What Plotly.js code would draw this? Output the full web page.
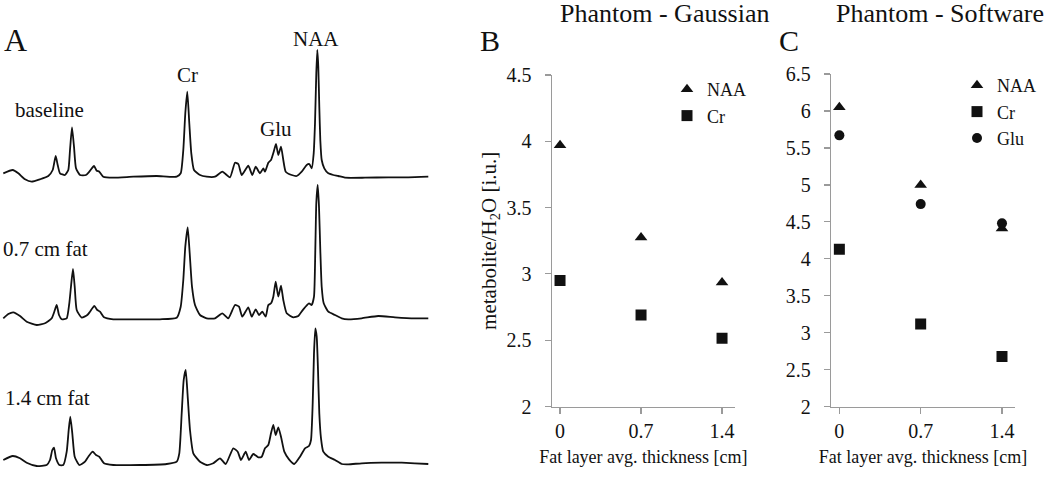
<!DOCTYPE html>
<html>
<head>
<meta charset="utf-8">
<script src="https://cdn.plot.ly/plotly-3.0.1.min.js"></script>
<style>html,body{margin:0;padding:0;background:#fff;}#chart{width:1050px;height:478px;}</style>
</head>
<body>
<div id="chart"></div>
<script>
// ---- Panel A: spectra (horizontal position in picture units, intensity above baseline) ----
const specBaseX = [3.3,12.7,18.3,25,31.7,40,48.3,52.7,55.7,57.7,60,65,68.3,70,72,74,76,80,86,89.3,94,96.7,99.3,103.3,113.3,133.3,156.7,176.7,180.7,183.3,185.3,187.3,189.3,191.3,194,200,206.7,215,222.3,230,235,238.3,241.7,248.3,252.3,255.7,260,263.3,265,268.3,271,273.7,276,278.3,281,283.3,285.7,291.7,296.7,301.7,306.7,309.3,311.7,313.7,315,316.3,317.3,318.3,319.3,320.3,321.7,324.3,328.3,333.3,338.3,345,365,388.3,408.3,428.3];
const specBaseI = [4.2,7.5,4.2,-1.8,-4.2,-1.8,1.5,7.5,21.5,12.5,4.2,2.5,7.5,27.5,50.2,30.8,9.2,2.5,2.5,5.8,11.5,6.8,5.8,0.8,-0.2,0.8,1.5,0.8,4.2,27.5,64.2,85.8,54.2,24.2,7.5,2.5,0.8,0.8,5.8,0.2,14.8,13.5,2.5,11.8,2.5,10.8,4.2,9.2,5.8,14.8,17.5,25.8,33.5,22.5,30.8,17.5,5.8,2.5,1.5,5.8,12.5,13.5,9.2,24.2,54.2,104.2,127.5,110.8,70.8,37.5,17.5,9.2,4.2,2.5,1.5,-0.2,-0.2,0.2,0.2,0.8];

const spec07X = [3.3,8.3,13.3,20,26.7,36.7,45,51.7,54.3,56.7,59,61.7,66.7,69.3,71.3,73,74.7,76.7,81.7,87.3,90,94.3,97.3,100,104,113.3,133.3,160,176.7,180.7,183.3,185.3,187.7,189.7,192,195,200,206.7,215,222.3,228.3,235,239,242.3,248.3,251.7,255.7,259,262.3,265.7,268.3,271,273.3,275.7,278.3,281,283.3,286.7,293.3,298.3,303.3,309,311.7,314,315.3,316.3,317.7,319,320.3,321.7,323.7,328.3,335,341.7,348.3,361.7,378.3,395,415,428.3];
const spec07I = [0,4.3,6,2.3,-3.4,-6.7,-5,0,6.6,13.3,3.3,-1,0,15,35,49.3,31.6,8.3,0.6,3.3,6.6,12.3,8.3,6.6,1,-1,-1,-1,0.6,11.6,38.3,71.6,91,65,31.6,13.3,3.3,0,0,5,0,13.3,11.6,1.6,11,1.6,9,3.3,6.6,1.6,13.3,15,21.6,36.6,21.6,32.6,18.3,5,1,2.3,9,15,13.3,21.6,68.3,115,133.3,111.6,68.3,31.6,15,6.6,3.3,0,-1,0,2.3,1,0,0];

const spec14X = [3.3,12.7,20,26.7,36.7,46.7,50,52.3,54,56,59.3,63.3,66.7,68.7,70.3,72.3,74.7,79.3,85,88.3,92.7,96,99.3,104,113.3,140,166.7,176.7,179.3,181.7,183.7,185.7,187.7,190,193.3,200,206.7,213.3,220,225.7,233.3,237.7,241,245.7,249,253.3,258.3,261.7,265,268.3,271,273.3,275.7,278.3,281,284.3,289,294.3,300,305,309,311,312.7,314,315.3,316.7,318,319.3,321,323.3,328.3,335,341.7,348.3,361.7,381.7,401.7,415,428.3];
const spec14I = [3,7,4.7,0.3,-3,-2,3,13,15.3,4.7,-2,-2,11.3,33,46.3,29.7,6.3,-2,1.3,6.3,11.3,8,6.3,-0.3,-2,-2,-1,1.3,9.7,49.7,83,93,66.3,33,9.7,1.3,-2,-0.3,4.7,-1,14.7,11.3,3,11.3,3,9,5.7,6.3,14.7,18,29.7,38,28,35.7,26.3,11.3,3.7,-1,6.3,14.7,17,23,59.7,109.7,134.7,126.3,93,49.7,24.7,11.3,6.3,3,-1,-1.3,-0.3,0.3,0.3,-0.3,-1];

// ---- Panels B and C ----
const thickness = [0, 0.7, 1.4];
const thicknessLabels = ['0', '0.7', '1.4'];
const gaussNAA = [3.97, 3.275, 2.935];
const gaussCr  = [2.95, 2.69, 2.515];
const softNAA  = [6.05, 5.00, 4.41];
const softCr   = [4.13, 3.12, 2.68];
const softGlu  = [5.67, 4.74, 4.48];

const FONT = '"Liberation Serif", "Times New Roman", Times, serif';
const INK = '#111111';
const AX = '#9a9a9a';
const W = 1050, H = 478;
const px = v => v / W;
const py = v => 1 - v / H;

const specLine = {color: INK, width: 1.8, shape: 'spline', smoothing: 0.5};
const traces = [
  {x: specBaseX, y: specBaseI, xaxis: 'x', yaxis: 'y', mode: 'lines', line: specLine, showlegend: false, hoverinfo: 'skip'},
  {x: spec07X, y: spec07I, xaxis: 'x', yaxis: 'y2', mode: 'lines', line: specLine, showlegend: false, hoverinfo: 'skip'},
  {x: spec14X, y: spec14I, xaxis: 'x', yaxis: 'y3', mode: 'lines', line: specLine, showlegend: false, hoverinfo: 'skip'},

  {x: thickness, y: gaussNAA, xaxis: 'x2', yaxis: 'y4', mode: 'markers', name: 'NAA', legend: 'legend',
   marker: {symbol: 'triangle-up', size: 11, color: INK}},
  {x: thickness, y: gaussCr, xaxis: 'x2', yaxis: 'y4', mode: 'markers', name: 'Cr', legend: 'legend',
   marker: {symbol: 'square', size: 11, color: INK}},

  {x: thickness, y: softNAA, xaxis: 'x3', yaxis: 'y5', mode: 'markers', name: 'NAA', legend: 'legend2',
   marker: {symbol: 'triangle-up', size: 11, color: INK}},
  {x: thickness, y: softCr, xaxis: 'x3', yaxis: 'y5', mode: 'markers', name: 'Cr', legend: 'legend2',
   marker: {symbol: 'square', size: 11, color: INK}},
  {x: thickness, y: softGlu, xaxis: 'x3', yaxis: 'y5', mode: 'markers', name: 'Glu', legend: 'legend2',
   marker: {symbol: 'circle', size: 10, color: INK}}
];

const hidden = {visible: false, fixedrange: true};
const valAxisX = (dom) => ({
  domain: dom, range: [-0.072, 1.512], showgrid: false, zeroline: false,
  showline: true, linecolor: AX, linewidth: 1.2, ticks: 'outside', ticklen: 6, tickcolor: AX, tickwidth: 1.2,
  tickvals: thickness, ticktext: thicknessLabels, tickfont: {family: FONT, size: 20, color: INK},
  title: {text: 'Fat layer avg. thickness [cm]', font: {family: FONT, size: 18, color: INK}, standoff: 9}
});
const valAxisY = (dom, rng, anchor) => ({
  domain: dom, range: rng, anchor: anchor, dtick: 0.5, showgrid: false, zeroline: false,
  showline: true, linecolor: AX, linewidth: 1.2, ticks: 'outside', ticklen: 6, tickcolor: AX, tickwidth: 1.2,
  ticklabelstandoff: 9,
  tickfont: {family: FONT, size: 20, color: INK}
});

const ann = (text, x, y, size) => ({text: text, x: px(x), y: py(y), xref: 'paper', yref: 'paper',
  xanchor: 'center', yanchor: 'middle', showarrow: false, font: {family: FONT, size: size, color: INK}});

const layout = {
  width: W, height: H,
  margin: {l: 0, r: 0, t: 0, b: 0},
  paper_bgcolor: '#ffffff', plot_bgcolor: 'rgba(0,0,0,0)',
  font: {family: FONT, color: INK},
  xaxis: Object.assign({domain: [0, 430 / W], range: [0, 430], anchor: 'y'}, hidden),
  yaxis: Object.assign({domain: [py(187.5), py(42.5)], range: [-10, 135], anchor: 'x'}, hidden),
  yaxis2: Object.assign({domain: [py(328.3), py(178.3)], range: [-10, 140], anchor: 'x'}, hidden),
  yaxis3: Object.assign({domain: [py(473), py(323)], range: [-10, 140], anchor: 'x'}, hidden),

  xaxis2: Object.assign(valAxisX([px(551.7), px(735)]), {anchor: 'y4'}),
  yaxis4: Object.assign(valAxisY([py(406.5), py(75)], [2, 4.5], 'x2'), {
    title: {text: 'metabolite/H<sub>2</sub>O [i.u.]', font: {family: FONT, size: 21, color: INK}, standoff: 4}
  }),
  xaxis3: Object.assign(valAxisX([px(831), px(1015)]), {anchor: 'y5'}),
  yaxis5: valAxisY([py(406.7), py(74)], [2, 6.5], 'x3'),

  legend: {x: px(667), y: py(71), xanchor: 'left', yanchor: 'top', bgcolor: 'rgba(0,0,0,0)',
           font: {family: FONT, size: 18, color: INK}, itemwidth: 30, tracegroupgap: 0},
  legend2: {x: px(957), y: py(67), xanchor: 'left', yanchor: 'top', bgcolor: 'rgba(0,0,0,0)',
            font: {family: FONT, size: 18, color: INK}, itemwidth: 30, tracegroupgap: 0},

  annotations: [
    ann('A', 15, 40, 32),
    ann('baseline', 49, 110, 21),
    ann('Cr', 187, 75, 21),
    ann('Glu', 276, 129, 21),
    ann('NAA', 316, 39, 21),
    ann('0.7 cm fat', 45, 249, 21),
    ann('1.4 cm fat', 47, 398, 21),
    ann('Phantom - Gaussian', 664, 13, 26),
    ann('Phantom - Software', 940, 13, 26),
    ann('B', 490, 40, 30),
    ann('C', 789, 40, 30)
  ]
};

Plotly.newPlot('chart', traces, layout, {staticPlot: true, displayModeBar: false});
</script>
</body>
</html>
